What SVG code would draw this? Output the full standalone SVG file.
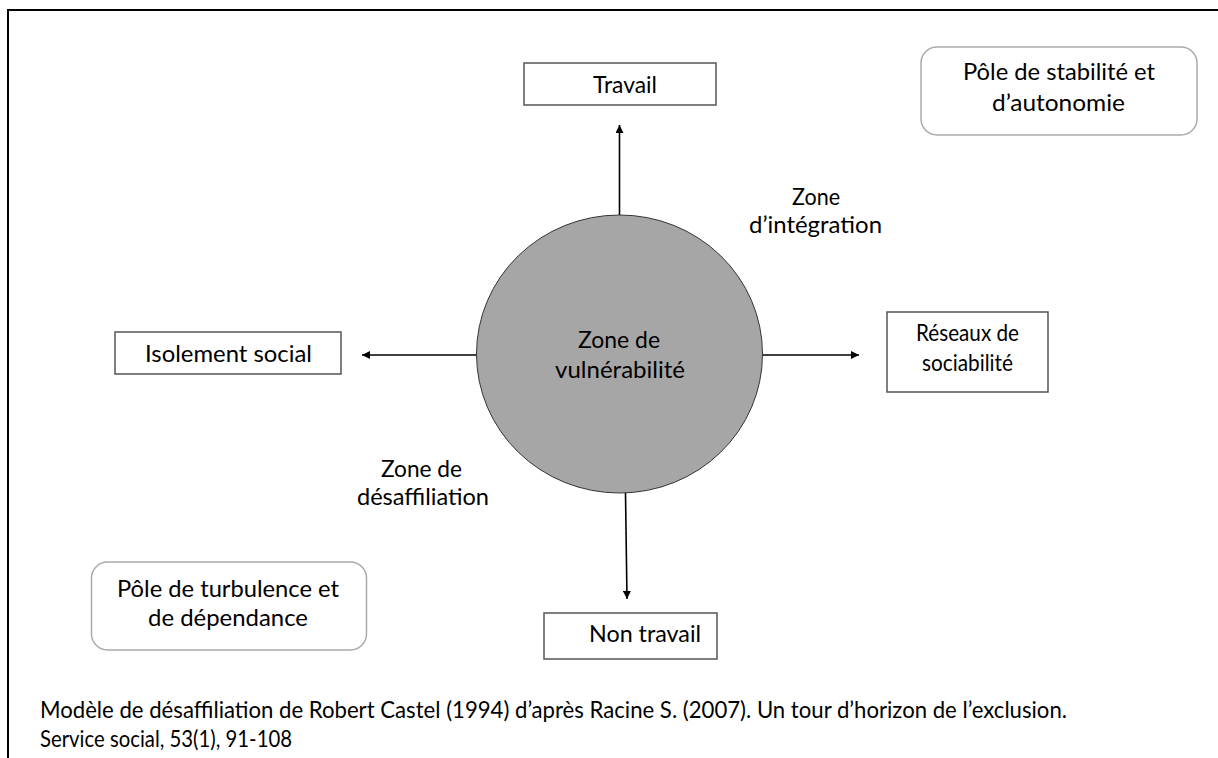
<svg xmlns="http://www.w3.org/2000/svg" width="1218" height="758" viewBox="0 0 1218 758">
<style>
text{font-family:Lato,"Open Sans","DejaVu Sans",sans-serif;font-size:24px;fill:#000;}
.c{text-anchor:middle;}
.box{fill:#fff;stroke:#555;stroke-width:1.5;}
.pole{fill:#fff;stroke:#aaa;stroke-width:1.5;}
.arr{stroke:#000;stroke-width:1.6;fill:none;marker-end:url(#ah);}
</style>
<defs>
<marker id="ah" viewBox="0 0 10 10" refX="10" refY="5" markerWidth="9" markerHeight="8" markerUnits="userSpaceOnUse" orient="auto"><path d="M0,0L10,5L0,10z" fill="#000"/></marker>
</defs>
<rect width="1218" height="758" fill="#fff"/>
<g id="frame"><path d="M8,758V10H1218" fill="none" stroke="#000" stroke-width="2"/></g>
<g id="connectors">
<line class="arr" x1="619.5" y1="215" x2="619.5" y2="125"/>
<line class="arr" x1="763" y1="355" x2="859" y2="355"/>
<line class="arr" x1="476" y1="355" x2="362" y2="355"/>
<line class="arr" x1="625.5" y1="493" x2="627" y2="599"/>
</g>
<g id="vulnerabilite">
<ellipse cx="619.5" cy="354" rx="143" ry="139" fill="#a6a6a6" stroke="#333" stroke-width="1"/>
<text class="c" x="619" y="348" textLength="82" lengthAdjust="spacingAndGlyphs">Zone de</text>
<text class="c" x="620" y="378" textLength="130" lengthAdjust="spacingAndGlyphs">vulnérabilité</text>
</g>
<g id="travail">
<rect class="box" x="524" y="63" width="192" height="42"/>
<text class="c" x="625" y="93" textLength="64" lengthAdjust="spacingAndGlyphs">Travail</text>
</g>
<g id="non-travail">
<rect class="box" x="544" y="613" width="173" height="46"/>
<text class="c" x="645" y="642" textLength="112" lengthAdjust="spacingAndGlyphs">Non travail</text>
</g>
<g id="isolement">
<rect class="box" x="115" y="332" width="226" height="42"/>
<text class="c" x="228.5" y="362" textLength="167" lengthAdjust="spacingAndGlyphs">Isolement social</text>
</g>
<g id="reseaux">
<rect class="box" x="887" y="312" width="161" height="80"/>
<text class="c" x="967.5" y="341" textLength="103" lengthAdjust="spacingAndGlyphs">Réseaux de</text>
<text class="c" x="967.5" y="371" textLength="91" lengthAdjust="spacingAndGlyphs">sociabilité</text>
</g>
<g id="pole-stabilite">
<rect class="pole" x="921" y="47" width="276" height="88" rx="16"/>
<text class="c" x="1059" y="80" textLength="192" lengthAdjust="spacingAndGlyphs">Pôle de stabilité et</text>
<text class="c" x="1058.5" y="111" textLength="133" lengthAdjust="spacingAndGlyphs">d’autonomie</text>
</g>
<g id="pole-turbulence">
<rect class="pole" x="91.5" y="562" width="275" height="88" rx="16"/>
<text class="c" x="228" y="597" textLength="222" lengthAdjust="spacingAndGlyphs">Pôle de turbulence et</text>
<text class="c" x="228" y="626" textLength="160" lengthAdjust="spacingAndGlyphs">de dépendance</text>
</g>
<g id="zone-integration">
<text class="c" x="816" y="205" textLength="48" lengthAdjust="spacingAndGlyphs">Zone</text>
<text class="c" x="815.5" y="233" textLength="133" lengthAdjust="spacingAndGlyphs">d’intégration</text>
</g>
<g id="zone-desaffiliation">
<text class="c" x="421.5" y="477" textLength="81" lengthAdjust="spacingAndGlyphs">Zone de</text>
<text class="c" x="423" y="505" textLength="132" lengthAdjust="spacingAndGlyphs">désaffiliation</text>
</g>
<g id="caption">
<text x="40" y="718" textLength="1027" lengthAdjust="spacingAndGlyphs">Modèle de désaffiliation de Robert Castel (1994) d’après Racine S. (2007). Un tour d’horizon de l’exclusion.</text>
<text x="40" y="747" textLength="252" lengthAdjust="spacingAndGlyphs">Service social, 53(1), 91-108</text>
</g>
</svg>
